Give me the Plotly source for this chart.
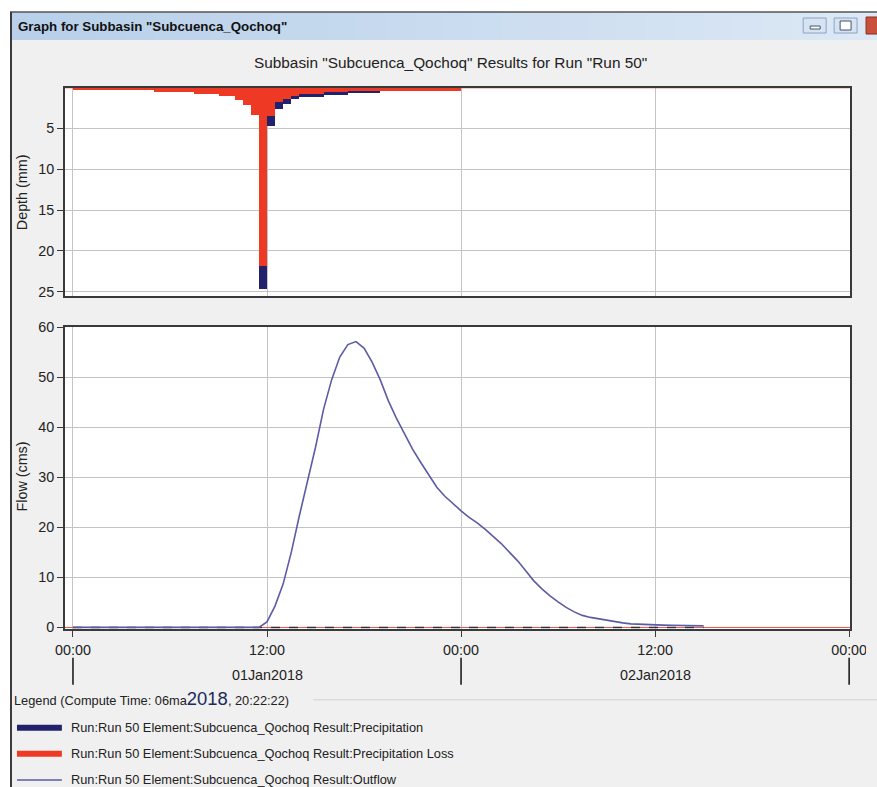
import plotly.graph_objects as go

# Geometry is specified in reference-image pixels and converted to figure pixels.
REF_W, REF_H = 877, 787
OX, OY = 8.0, 8.0          # observed capture offset
SX, SY = 0.972, 0.980      # observed capture scale
W = int(round((REF_W - OX) / SX))
H = int(round((REF_H - OY) / SY))
FS = 1.0 / ((SX + SY) / 2)  # font compensation

# ---------------- data ----------------
# Precipitation intervals (30-min), value for the interval ending at given hour after 01Jan2018 00:00
precip_end_hours = [0.5 * i for i in range(1, 49)]
precipitation_mm = [
    0.30, 0.30, 0.30, 0.30, 0.30, 0.30, 0.30, 0.30, 0.30, 0.30,
    0.45, 0.45, 0.45, 0.45, 0.45,
    0.70, 0.70, 0.70,
    0.95, 0.95,
    1.50, 2.10, 3.30, 24.60, 4.70, 2.55, 1.95, 1.35,
    1.05, 1.05, 1.05,
    0.80, 0.80, 0.80,
    0.60, 0.60, 0.60, 0.60,
    0.40, 0.40, 0.40, 0.40, 0.40, 0.40, 0.40, 0.40, 0.40, 0.40,
]
precipitation_loss_mm = [
    0.30, 0.30, 0.30, 0.30, 0.30, 0.30, 0.30, 0.30, 0.30, 0.30,
    0.45, 0.45, 0.45, 0.45, 0.45,
    0.70, 0.70, 0.70,
    0.95, 0.95,
    1.50, 2.10, 3.30, 21.75, 3.40, 1.70, 1.40, 1.00,
    0.75, 0.75, 0.75,
    0.55, 0.55, 0.55,
    0.42, 0.42, 0.42, 0.42,
    0.35, 0.35, 0.35, 0.35, 0.35, 0.35, 0.35, 0.35, 0.35, 0.35,
]

# Outflow hydrograph (30-min), hours after 01Jan2018 00:00
outflow_hours = [0.5 * i for i in range(0, 79)]
outflow_cms = [
    0, 0, 0, 0, 0, 0, 0, 0, 0, 0, 0, 0,
    0, 0, 0, 0, 0, 0, 0, 0, 0, 0, 0, 0,
    1.1, 4.3, 8.7, 15.0, 22.3, 29.0, 36.0, 43.6, 49.5, 54.0,
    56.5, 57.1, 55.8, 53.0, 49.5, 45.3, 41.8, 38.7, 35.6, 33.0,
    30.5, 28.0, 26.2, 24.7, 23.3, 22.0, 20.9, 19.6, 18.2, 16.7,
    15.0, 13.3, 11.3, 9.3, 7.7, 6.3, 5.1, 4.0, 3.1, 2.4,
    2.0, 1.7, 1.5, 1.2, 0.9, 0.7, 0.6, 0.55, 0.5, 0.45,
    0.42, 0.38, 0.35, 0.32, 0.3,
]
baseline_hours = [0, 39]
baseline_cms = [0, 0]
full_span_hours = [-0.5, 48.1]
zero_vals = [0, 0]

time_tickvals = [0, 12, 24, 36, 48]
time_ticktext = ["00:00", "12:00", "00:00", "12:00", "00:00"]
day_boundaries = [0, 24, 48]
date_label_hours = [12, 36]
date_labels = ["01Jan2018", "02Jan2018"]
depth_ticks = [5, 10, 15, 20, 25]
flow_ticks = [0, 10, 20, 30, 40, 50, 60]

assert len(precipitation_mm) == len(precip_end_hours) == len(precipitation_loss_mm)
assert len(outflow_cms) == len(outflow_hours)

# ---------------- style ----------------
NAVY = "#22226c"
RED = "#ee3a24"
OUT = "#5b5ba6"
GRID = "#c4c4c4"
FRAME = "#3a3a3a"
BG = "#f0f0f0"
FONT = "Liberation Sans, Arial, sans-serif"


def px(x):
    """reference pixel x -> paper fraction"""
    return min(max(((x - OX) / SX) / W, -0.02), 1.02)


def py(y):
    return min(max(1 - ((y - OY) / SY) / H, -0.02), 1.02)


def fs(s):
    return round(s * FS, 2)


fig = go.Figure()

fig.add_trace(go.Bar(x=precip_end_hours, y=precipitation_mm, offset=-0.5, width=0.5,
                     marker=dict(color=NAVY, line=dict(width=0)),
                     xaxis="x", yaxis="y", name="Precipitation", showlegend=False))
fig.add_trace(go.Bar(x=precip_end_hours, y=precipitation_loss_mm, offset=-0.5, width=0.5,
                     marker=dict(color=RED, line=dict(width=0)),
                     xaxis="x", yaxis="y", name="Precipitation Loss", showlegend=False))
fig.add_trace(go.Scatter(x=full_span_hours, y=zero_vals, mode="lines",
                         line=dict(color=RED, width=1.5), xaxis="x", yaxis="y",
                         showlegend=False, hoverinfo="skip"))

fig.add_trace(go.Scatter(x=full_span_hours, y=zero_vals, mode="lines",
                         line=dict(color="#e05a50", width=1), xaxis="x2", yaxis="y2",
                         showlegend=False, hoverinfo="skip"))
fig.add_trace(go.Scatter(x=baseline_hours, y=baseline_cms, mode="lines",
                         line=dict(color="#333333", width=1.5, dash="dash"),
                         xaxis="x2", yaxis="y2", showlegend=False, hoverinfo="skip"))
fig.add_trace(go.Scatter(x=outflow_hours, y=outflow_cms, mode="lines",
                         line=dict(color=OUT, width=1.6), xaxis="x2", yaxis="y2",
                         name="Outflow", showlegend=False))

axis_common = dict(showline=True, linecolor=FRAME, linewidth=1.5, mirror=True,
                   showgrid=True, gridcolor=GRID, gridwidth=1, zeroline=False,
                   tickfont=dict(family=FONT, size=fs(14), color="#222222"))

fig.update_layout(
    width=W, height=H, margin=dict(l=0, r=0, t=0, b=0),
    paper_bgcolor=BG, plot_bgcolor="white",
    barmode="overlay", bargap=0, showlegend=False,
    font=dict(family=FONT, size=fs(14), color="#222222"),
    xaxis=dict(domain=[px(63), px(850)], range=[-0.5, 48.06], anchor="y",
               tickvals=time_tickvals, showticklabels=False, ticks="", **axis_common),
    yaxis=dict(domain=[py(296), py(87.5)], range=[25.55, 0], anchor="x",
               tickvals=depth_ticks, ticks="outside", ticklen=6, tickcolor=FRAME,
               **axis_common),
    xaxis2=dict(domain=[px(63), px(850)], range=[-0.5, 48.06], anchor="y2",
                tickvals=time_tickvals, ticktext=time_ticktext, ticks="outside",
                ticklen=7, tickcolor=FRAME, **axis_common),
    yaxis2=dict(domain=[py(628), py(326.7)], range=[-0.26, 60], anchor="x2",
                tickvals=flow_ticks, ticks="outside", ticklen=6, tickcolor=FRAME,
                **axis_common),
)

shapes = []
# top white strip and title bar gradient
shapes.append(dict(type="rect", xref="paper", yref="paper", x0=-0.02, x1=1.02, y0=py(12), y1=1.02,
                   fillcolor="white", line=dict(width=0), layer="below"))
shapes.append(dict(type="rect", xref="paper", yref="paper", x0=-0.02, x1=px(8.5), y0=-0.02, y1=1.02,
                   fillcolor="white", line=dict(width=0), layer="below"))
steps = 30
c0 = (0xb8, 0xd0, 0xea)
c1 = (0xdc, 0xe8, 0xf5)
for i in range(steps):
    t = i / (steps - 1)
    col = "rgb(%d,%d,%d)" % tuple(int(c0[k] + (c1[k] - c0[k]) * t) for k in range(3))
    shapes.append(dict(type="rect", xref="paper", yref="paper",
                       x0=px(8 + i * (869 / steps)), x1=px(8 + (i + 1) * (869 / steps) + 1),
                       y0=py(40), y1=py(12), fillcolor=col, line=dict(width=0), layer="below"))
shapes.append(dict(type="line", xref="paper", yref="paper", x0=px(8), x1=1.02, y0=py(12), y1=py(12),
                   line=dict(color="#555555", width=1.5)))
shapes.append(dict(type="line", xref="paper", yref="paper", x0=px(9), x1=px(9), y0=-0.02, y1=py(12),
                   line=dict(color="#3c3c3c", width=2)))
# window buttons
for x0, x1 in [(803, 826), (834, 857)]:
    shapes.append(dict(type="rect", xref="paper", yref="paper", x0=px(x0), x1=px(x1),
                       y0=py(33), y1=py(18), fillcolor="#d6e3f2",
                       line=dict(color="#8da4c0", width=1)))
shapes.append(dict(type="rect", xref="paper", yref="paper", x0=px(810), x1=px(820),
                   y0=py(29), y1=py(26), fillcolor="white", line=dict(color="#44546a", width=1)))
shapes.append(dict(type="rect", xref="paper", yref="paper", x0=px(840), x1=px(851),
                   y0=py(30), y1=py(21), fillcolor="white", line=dict(color="#44546a", width=1)))
shapes.append(dict(type="rect", xref="paper", yref="paper", x0=px(866), x1=1.02,
                   y0=py(34), y1=py(17), fillcolor="#c8503c", line=dict(color="#8a3020", width=1)))
# date row separators
for d in day_boundaries:
    shapes.append(dict(type="line", xref="x2", yref="paper", x0=d, x1=d, y0=py(684), y1=py(657),
                       line=dict(color="#111111", width=1.5)))
# clip of the last tick label by the panel edge
shapes.append(dict(type="rect", xref="paper", yref="paper", x0=px(866), x1=1.02, y0=py(662), y1=py(632),
                   fillcolor=BG, line=dict(width=0), layer="above"))
# legend separator
shapes.append(dict(type="line", xref="paper", yref="paper", x0=px(312), x1=1.02, y0=py(699), y1=py(699),
                   line=dict(color="#d2d2d2", width=1)))
# legend swatches
shapes.append(dict(type="line", xref="paper", yref="paper", x0=px(15), x1=px(60), y0=py(727), y1=py(727),
                   line=dict(color=NAVY, width=6)))
shapes.append(dict(type="line", xref="paper", yref="paper", x0=px(15), x1=px(60), y0=py(753), y1=py(753),
                   line=dict(color=RED, width=6)))
shapes.append(dict(type="line", xref="paper", yref="paper", x0=px(15), x1=px(60), y0=py(779), y1=py(779),
                   line=dict(color=OUT, width=1.5)))
fig.update_layout(shapes=shapes)

ann = []
ann.append(dict(text='<b>Graph for Subbasin "Subcuenca_Qochoq"</b>', xref="paper", yref="paper",
                x=px(14), y=py(26), xanchor="left", yanchor="middle", showarrow=False,
                font=dict(family=FONT, size=fs(13), color="#111111")))
ann.append(dict(text='Subbasin "Subcuenca_Qochoq" Results for Run "Run 50"', xref="paper", yref="paper",
                x=px(449), y=py(62), xanchor="center", yanchor="middle", showarrow=False,
                font=dict(family=FONT, size=fs(15), color="#222222")))
ann.append(dict(text="Depth (mm)", xref="paper", yref="paper", x=px(20), y=py(192),
                xanchor="center", yanchor="middle", textangle=-90, showarrow=False,
                font=dict(family=FONT, size=fs(14), color="#222222")))
ann.append(dict(text="Flow (cms)", xref="paper", yref="paper", x=px(20), y=py(476),
                xanchor="center", yanchor="middle", textangle=-90, showarrow=False,
                font=dict(family=FONT, size=fs(14), color="#222222")))
for hx, lab in zip(date_label_hours, date_labels):
    ann.append(dict(text=lab, xref="x2", yref="paper", x=hx, y=py(674), xanchor="center",
                    yanchor="middle", showarrow=False,
                    font=dict(family=FONT, size=fs(14), color="#222222")))
ann.append(dict(text='Legend (Compute Time: 06ma<span style="font-size:%spx;color:#1c2a5c">2018</span>, 20:22:22)' % fs(18),
                xref="paper", yref="paper", x=px(10), y=py(698), xanchor="left", yanchor="middle",
                showarrow=False, font=dict(family=FONT, size=fs(12.5), color="#222222")))
legend_texts = [
    "Run:Run 50 Element:Subcuenca_Qochoq Result:Precipitation",
    "Run:Run 50 Element:Subcuenca_Qochoq Result:Precipitation Loss",
    "Run:Run 50 Element:Subcuenca_Qochoq Result:Outflow",
]
for i, t in enumerate(legend_texts):
    ann.append(dict(text=t, xref="paper", yref="paper", x=px(67), y=py(727 + 26 * i),
                    xanchor="left", yanchor="middle", showarrow=False,
                    font=dict(family=FONT, size=fs(12.5), color="#222222")))
fig.update_layout(annotations=ann)

fig.write_html(
    "out.html",
    config={"displayModeBar": False},
    post_script=(
        "document.body.style.margin='0';document.body.style.padding='0';"
        "document.body.style.overflow='hidden';"
    ),
)
